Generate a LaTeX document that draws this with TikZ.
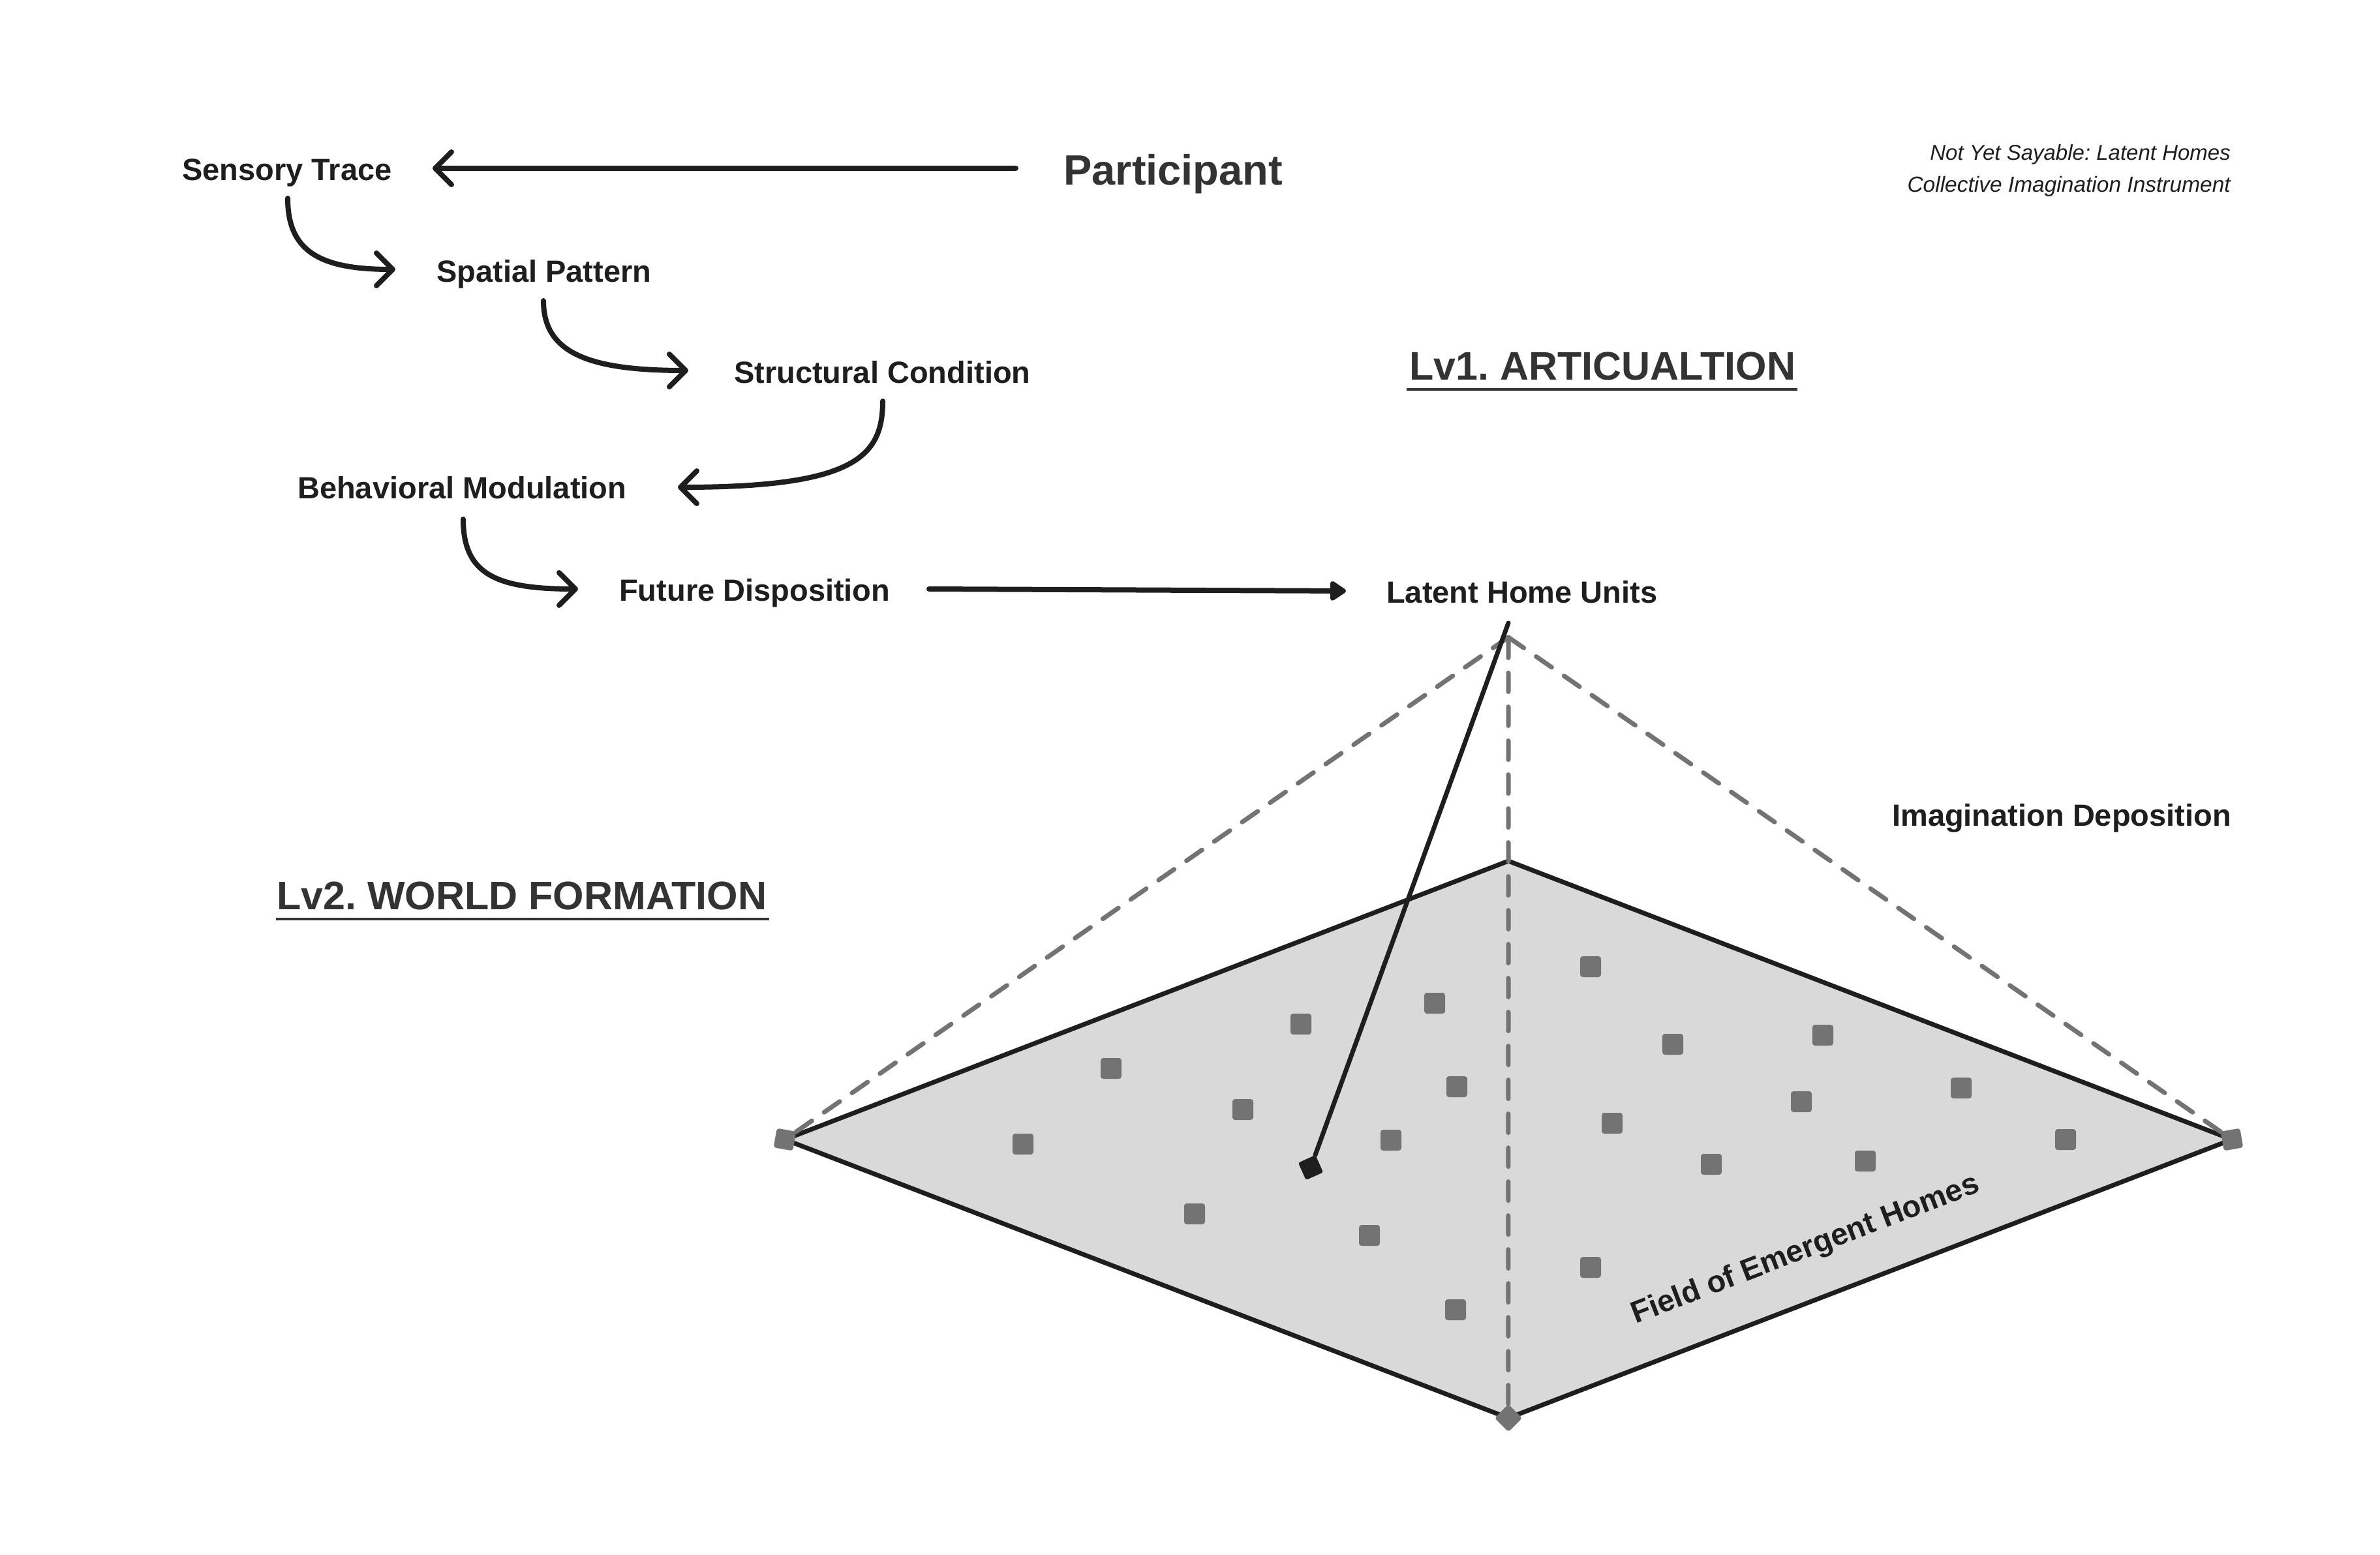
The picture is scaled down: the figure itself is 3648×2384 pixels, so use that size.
\documentclass[tikz,border=0pt]{standalone}
\usepackage{fontspec}
\setmainfont{Liberation Sans}
\usetikzlibrary{arrows.meta,calc}
\definecolor{ink}{HTML}{1E1E1E}
\definecolor{inktwo}{HTML}{333333}
\definecolor{midgray}{HTML}{737373}
\definecolor{fieldgray}{HTML}{D9D9D9}
\frenchspacing
\begin{document}
\begin{tikzpicture}[x=1pt,y=-1pt,
  lbl/.style={inner sep=0pt, anchor=base west, text=ink, font=\bfseries\fontsize{47}{56}\selectfont},
  headlbl/.style={inner sep=0pt, anchor=base west, text=inktwo, font=\bfseries\fontsize{61}{72}\selectfont},
  notelbl/.style={inner sep=0pt, anchor=base east, text=ink, font=\itshape\fontsize{33}{40}\selectfont},
  flow/.style={draw=ink, line width=8pt, line cap=round, -{Straight Barb[length=25pt,width=50pt,round]}},
  push/.style={draw=ink, line width=8pt, line cap=round, -{Triangle[length=27pt,width=34pt,round]}},
  guide/.style={draw=midgray, line width=7pt, line cap=round, dash pattern=on 29pt off 23pt},
  underl/.style={draw=inktwo, line width=4pt},
  home/.style={fill=midgray, minimum size=32pt, inner sep=0pt, rounded corners=4pt},
  cornermark/.style={fill=midgray, minimum size=30pt, inner sep=0pt, rounded corners=4pt},
  pinmark/.style={fill=ink, minimum size=29pt, inner sep=0pt, rounded corners=3pt},
]
\useasboundingbox (0,0) rectangle (3648,2384);
\fill[white] (0,0) rectangle (3648,2384);

% ---------- flow labels ----------
\node[lbl] (st) at (279,276) {Sensory Trace};
\node[inner sep=0pt, anchor=base west, text=inktwo, font=\bfseries\fontsize{65}{76}\selectfont] (pa) at (1630,283) {Participant};
\node[lbl] (sp) at (669,432) {Spatial Pattern};
\node[lbl] (sc) at (1125,587) {Structural Condition};
\node[lbl] (bm) at (456,764) {Behavioral Modulation};
\node[lbl] (fd) at (949,921) {Future Disposition};
\node[lbl] (lh) at (2125,924) {Latent Home Units};

% ---------- headings ----------
\node[headlbl] (lv1) at (2160,582) {Lv1. ARTICUALTION};
\draw[underl] ($(lv1.base west)+(-4,15)$) -- ($(lv1.base east)+(3,15)$);
\node[headlbl] (lv2) at (424,1394) {Lv2. WORLD FORMATION};
\draw[underl] ($(lv2.base west)+(-1,15)$) -- ($(lv2.base east)+(3,15)$);

\node[notelbl] (n1) at (3419,245) {Not Yet Sayable: Latent Homes};
\node[notelbl, font=\itshape\fontsize{33.5}{40}\selectfont] (n2) at (3419,294) {Collective Imagination Instrument};
\node[lbl, anchor=base east] (id) at (3420,1266) {Imagination Deposition};

% ---------- flow connectors ----------
\draw[flow] ($(pa.base west)+(-73,-25)$) -- ($(st.base west)+(384,-18)$);
\draw[flow] ($(st.base west)+(162,28)$) .. controls +(0,81) and +(-116,0) .. ($(sp.base west)+(-63,-19)$);
\draw[flow] ($(sp.base west)+(164,29)$) .. controls +(0,79) and +(-155,0) .. ($(sc.base west)+(-70,-19)$);
\draw[flow] ($(sc.base west)+(228,28)$) .. controls +(0,85) and +(271,0) .. ($(bm.base west)+(583,-17)$);
\draw[flow] ($(bm.base west)+(254,32)$) .. controls +(0,84) and +(-126,0) .. ($(fd.base west)+(-63,-18)$);
\draw[push] ($(fd.base west)+(475,-18)$) -- ($(lh.base west)+(-62,-18)$);

% ---------- field ----------
\coordinate (L) at (1203,1747);
\coordinate (T) at (2312,1320);
\coordinate (R) at (3421,1747);
\coordinate (B) at (2312,2174);
\coordinate (A) at (2312,977);
\draw[draw=ink, line width=7pt, fill=fieldgray] (L) -- (T) -- (R) -- (B) -- cycle;

\node[cornermark, rotate=-10] (mL) at (L) {};
\node[cornermark, rotate=10] (mR) at (R) {};
\node[cornermark, rotate=45] (mB) at (B) {};

\draw[guide] (mL) -- (A);
\draw[guide] (mR) -- (A);
\draw[guide] (mB) -- (A);

\node[home] (h1) at (2438,1482) {};
\node[home] (h2) at (2199,1538) {};
\node[home] (h3) at (1994,1570) {};
\node[home] (h4) at (2564,1601) {};
\node[home] (h5) at (2794,1587) {};
\node[home] (h6) at (1703,1638) {};
\node[home] (h7) at (2233,1666) {};
\node[home] (h8) at (3006,1668) {};
\node[home] (h9) at (1905,1701) {};
\node[home] (h10) at (2761,1689) {};
\node[home] (h11) at (2471,1722) {};
\node[home] (h12) at (1568,1754) {};
\node[home] (h13) at (2132,1748) {};
\node[home] (h14) at (3166,1747) {};
\node[home] (h15) at (2623,1785) {};
\node[home] (h16) at (2859,1780) {};
\node[home] (h17) at (1831,1861) {};
\node[home] (h18) at (2099,1894) {};
\node[home] (h19) at (2438,1943) {};
\node[home] (h20) at (2231,2008) {};

\node[pinmark, rotate=24] (pin) at (2009,1790) {};
\draw[draw=ink, line width=7pt, line cap=round] ($(lh.base west)+(187,31)$) -- (pin);

\node[inner sep=0pt, anchor=base, rotate=21, text=ink, font=\bfseries\fontsize{47}{56}\selectfont] (fe) at (2772,1928) {Field of Emergent Homes};
\end{tikzpicture}
\end{document}
